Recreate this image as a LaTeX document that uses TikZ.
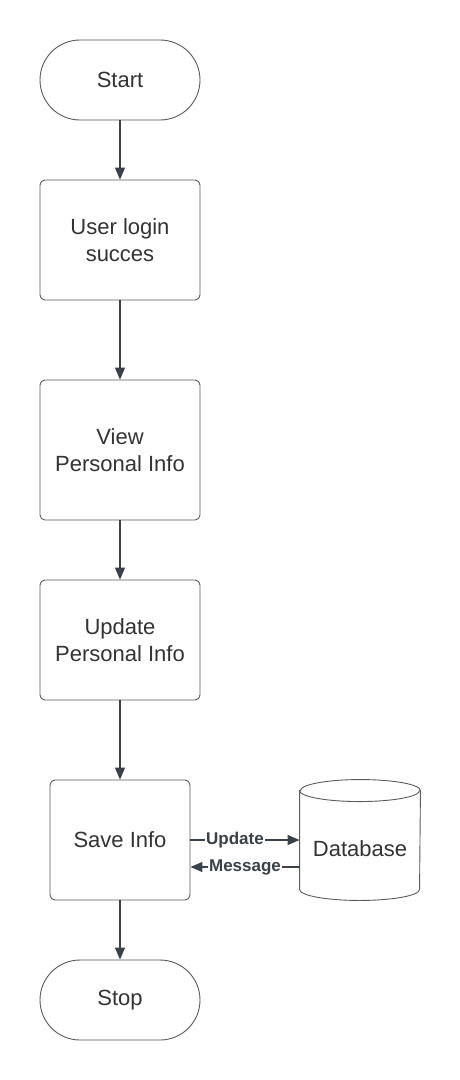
\documentclass[tikz,border=0pt]{standalone}
\usepackage{fontspec}
\setmainfont{Liberation Sans}
\usetikzlibrary{arrows.meta}
\definecolor{linec}{HTML}{3A414A}
\definecolor{boxc}{HTML}{5A5A5A}
\definecolor{textc}{HTML}{333333}
\begin{document}
\begin{tikzpicture}[x=1pt,y=-1pt,
  base/.style={draw=boxc, line width=0.9pt, text=textc, align=center,
    font=\fontsize{22}{27}\selectfont, inner sep=0pt},
  procbox/.style={base, rounded corners=5pt, minimum width=160pt, minimum height=120pt},
  termbox/.style={base, rounded corners=40pt, minimum width=160pt, minimum height=80pt},
  flow/.style={draw=linec, line width=1.3pt, -{Triangle[length=12pt,width=10pt]}},
  lbl/.style={font=\fontsize{17}{19}\selectfont\bfseries, text=linec, fill=white, inner sep=1pt}]
\fill[white] (0,0) rectangle (460,1080);
\node[termbox] (start) at (120,80) {Start};
\node[procbox] (login) at (120,240) {User login\\succes};
\node[procbox, minimum height=140pt] (view) at (120,450) {View\\Personal Info};
\node[procbox] (upd) at (120,640) {Update\\Personal Info};
\node[procbox, minimum width=140pt] (save) at (120,840) {Save Info};
\node[termbox] (stop) at (120,1000) {Stop};
\node[base, draw=none, minimum width=120pt, minimum height=120pt] (db) at (360,840) {};
\draw[boxc, line width=0.9pt, fill=white] ([yshift=-11]db.north west) -- ([yshift=11]db.south west)
  arc[start angle=180, end angle=360, x radius=60pt, y radius=11pt]
  -- ([yshift=-11]db.north east)
  arc[start angle=0, end angle=180, x radius=60pt, y radius=11pt] -- cycle;
\draw[boxc, line width=0.9pt] ([yshift=-11]db.north west)
  arc[start angle=180, end angle=360, x radius=60pt, y radius=11pt];
\node[text=textc, font=\fontsize{22}{27}\selectfont] (dbt) at ([yshift=-9]db.center) {Database};
\draw[flow] (start) -- (login);
\draw[flow] (login) -- (view);
\draw[flow] (view) -- (upd);
\draw[flow] (upd) -- (save);
\draw[flow] (save) -- (stop);
\draw[flow] (save.east) -- node[lbl, xshift=-10pt] {Update} (save.east -| db.west);
\draw[flow] ([yshift=-27]db.west) -- node[lbl] {Message} ([yshift=-27]save.east);
\end{tikzpicture}
\end{document}
